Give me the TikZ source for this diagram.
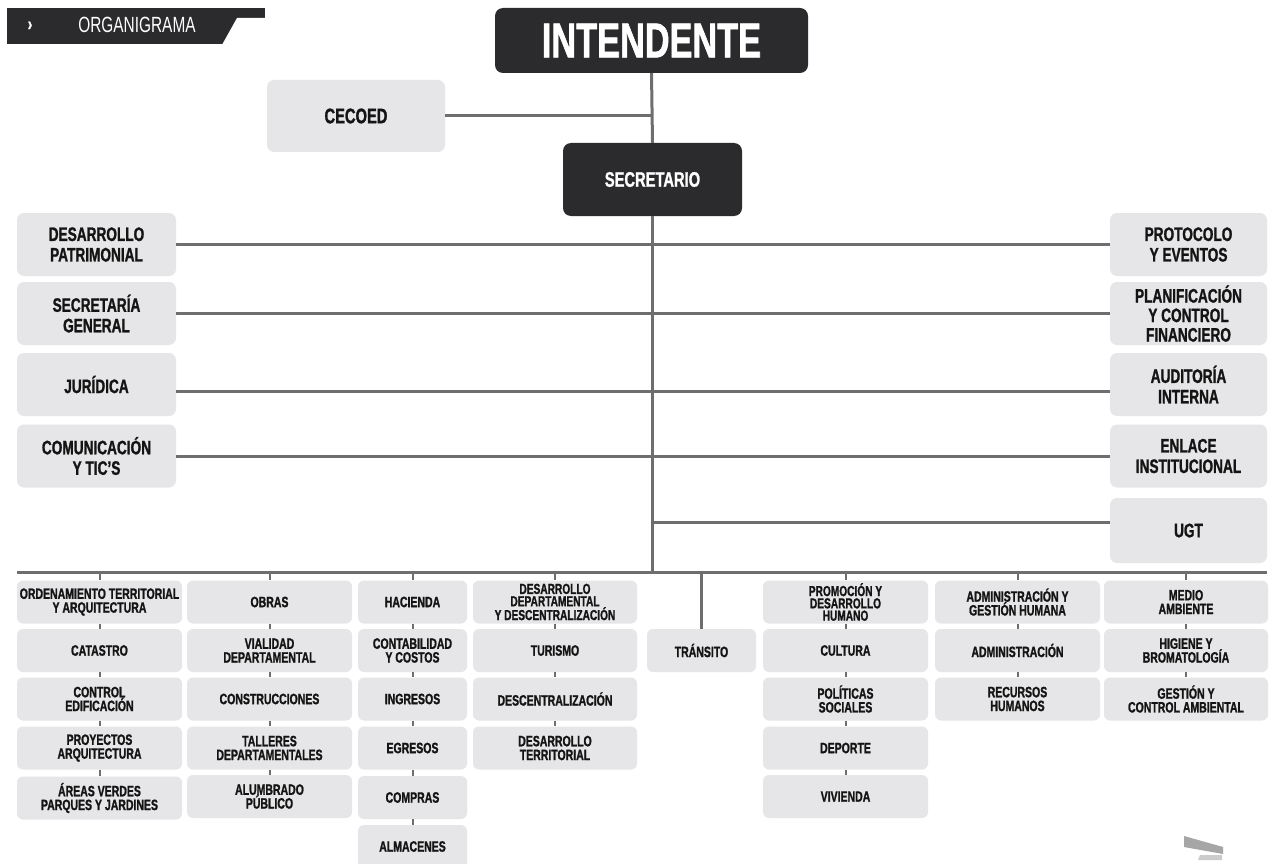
\documentclass[tikz,border=0pt]{standalone}
\usepackage{fontspec}
\setmainfont[FakeStretch=0.7,BoldFeatures={FakeBold=1.2}]{Liberation Sans}
\definecolor{darkbox}{HTML}{2B2A2C}
\definecolor{boxgray}{HTML}{E6E6E8}
\definecolor{linegray}{HTML}{6E6E6E}
\definecolor{txt}{HTML}{141414}
\begin{document}
\begin{tikzpicture}[x=1pt,y=-1pt,
  dbox/.style={fill=darkbox,rounded corners=8pt,text=white,inner sep=0pt,align=center},
  gbox/.style={fill=boxgray,rounded corners=7pt,text=txt,inner sep=0pt,align=center},
  sidebox/.style={gbox,minimum height=63pt,font=\bfseries\fontsize{19.5}{20.5}\selectfont},
  lbox/.style={sidebox,minimum width=159pt},
  rbox/.style={sidebox,minimum width=157pt},
  smallbox/.style={gbox,rounded corners=6pt,minimum height=43pt,font=\bfseries\fontsize{15}{13.8}\selectfont},
  widebox/.style={smallbox,minimum width=165pt},
  narrowbox/.style={smallbox,minimum width=109pt},
  tight/.style={font=\bfseries\fontsize{14.5}{12.3}\selectfont},
  conn/.style={draw=linegray,line width=3pt},
  tick/.style={draw=linegray,line width=2pt}]
\useasboundingbox (0,0) rectangle (1275,864);
\clip (0,0) rectangle (1275,864);
\fill[white] (0,0) rectangle (1275,864);

% title bar
\fill[darkbox] (7,8) rectangle (265,44);
\fill[white] (237,18) -- (268,18) -- (268,52) -- (218,52) -- cycle;
\node[text=white,font=\bfseries\fontsize{19}{19}\selectfont] (arrow) at (30,26) {›};
\node[text=white,font=\fontsize{22}{22}\selectfont] (title) at (137,25) {ORGANIGRAMA};

% top
\node[dbox,minimum width=313pt,minimum height=65pt,font=\bfseries\fontsize{49}{49}\selectfont] (int) at (651.5,40.5) {INTENDENTE};
\node[gbox,minimum width=178pt,minimum height=72pt,font=\bfseries\fontsize{21}{21}\selectfont] (cecoed) at (356,116) {CECOED};
\node[dbox,minimum width=179pt,minimum height=73pt,font=\bfseries\fontsize{21}{21}\selectfont] (sec) at (652.5,179.5) {SECRETARIO};

% side boxes
\node[lbox] (dp) at (96.5,244.5) {DESARROLLO\\PATRIMONIAL};
\node[lbox] (sg) at (96.5,313.5) {SECRETARÍA\\GENERAL};
\node[lbox] (jur) at (96.5,384.5) {JURÍDICA};
\node[lbox] (com) at (96.5,456) {COMUNICACIÓN\\Y TIC’S};
\node[rbox] (prot) at (1188.5,244.5) {PROTOCOLO\\Y EVENTOS};
\node[rbox,font=\bfseries\fontsize{19.5}{19.5}\selectfont] (plan) at (1188.5,313.5) {PLANIFICACIÓN\\Y CONTROL\\FINANCIERO};
\node[rbox] (aud) at (1188.5,384.5) {AUDITORÍA\\INTERNA};
\node[rbox] (enl) at (1188.5,456) {ENLACE\\INSTITUCIONAL};
\node[rbox,minimum height=65pt] (ugt) at (1188.5,530.5) {UGT};

% trunk and branches
\draw[conn] (int.south) -- (sec.north);
\draw[conn] (cecoed.east) -- (cecoed.east -| int.south);
\coordinate (busL) at (17,572);
\coordinate (busR) at (1267,572);
\draw[conn] (sec.south) -- (sec.south |- busL);
\draw[conn] (dp.east) -- (prot.west);
\draw[conn] (sg.east) -- (plan.west);
\draw[conn] ([yshift=-6.5pt]jur.east) -- ([yshift=-6.5pt]aud.west);
\draw[conn] (com.east) -- (enl.west);
\draw[conn] ([yshift=8.5pt]ugt.west) -- ([yshift=8.5pt]ugt.west -| sec.south);
\draw[conn] (busL) -- (busR);

% column 1
\node[widebox] (a1) at (99.5,602) {ORDENAMIENTO TERRITORIAL\\Y ARQUITECTURA};
\node[widebox] (a2) at (99.5,650.5) {CATASTRO};
\node[widebox] (a3) at (99.5,699) {CONTROL\\EDIFICACIÓN};
\node[widebox] (a4) at (99.5,748) {PROYECTOS\\ARQUITECTURA};
\node[widebox] (a5) at (99.5,798) {ÁREAS VERDES\\PARQUES Y JARDINES};
% column 2
\node[widebox] (b1) at (269.5,602) {OBRAS};
\node[widebox] (b2) at (269.5,650.5) {VIALIDAD\\DEPARTAMENTAL};
\node[widebox] (b3) at (269.5,699) {CONSTRUCCIONES};
\node[widebox] (b4) at (269.5,748) {TALLERES\\DEPARTAMENTALES};
\node[widebox] (b5) at (269.5,796.5) {ALUMBRADO\\PÚBLICO};
% column 3
\node[narrowbox] (c1) at (412.5,602) {HACIENDA};
\node[narrowbox] (c2) at (412.5,650.5) {CONTABILIDAD\\Y COSTOS};
\node[narrowbox] (c3) at (412.5,699) {INGRESOS};
\node[narrowbox] (c4) at (412.5,748) {EGRESOS};
\node[narrowbox] (c5) at (412.5,797.5) {COMPRAS};
\node[narrowbox] (c6) at (412.5,846.5) {ALMACENES};
% column 4
\node[widebox,minimum width=164pt,tight] (d1) at (555,602) {DESARROLLO\\DEPARTAMENTAL\\Y DESCENTRALIZACIÓN};
\node[widebox,minimum width=164pt] (d2) at (555,650.5) {TURISMO};
\node[widebox,minimum width=164pt] (d3) at (555,699) {DESCENTRALIZACIÓN};
\node[widebox,minimum width=164pt] (d4) at (555,748) {DESARROLLO\\TERRITORIAL};
% transito
\node[narrowbox] (tran) at (701.5,650.5) {TRÁNSITO};
% column 6
\node[widebox,tight] (f1) at (845.5,602) {PROMOCIÓN Y\\DESARROLLO\\HUMANO};
\node[widebox] (f2) at (845.5,650.5) {CULTURA};
\node[widebox] (f3) at (845.5,699) {POLÍTICAS\\SOCIALES};
\node[widebox] (f4) at (845.5,748) {DEPORTE};
\node[widebox] (f5) at (845.5,796.5) {VIVIENDA};
% column 7
\node[widebox] (g1) at (1017.5,602) {ADMINISTRACIÓN Y\\GESTIÓN HUMANA};
\node[widebox] (g2) at (1017.5,650.5) {ADMINISTRACIÓN};
\node[widebox] (g3) at (1017.5,699) {RECURSOS\\HUMANOS};
% column 8
\node[widebox,minimum width=164pt] (h1) at (1186,602) {MEDIO\\AMBIENTE};
\node[widebox,minimum width=164pt] (h2) at (1186,650.5) {HIGIENE Y\\BROMATOLOGÍA};
\node[widebox,minimum width=164pt] (h3) at (1186,699) {GESTIÓN Y\\CONTROL AMBIENTAL};

% ticks from bus
\foreach \n in {a1,b1,c1,d1,f1,g1,h1}
  \draw[tick] (\n.north |- busL) -- (\n.north);
\draw[conn] (tran.north |- busL) -- (tran.north);
% ticks between boxes
\foreach \p/\q in {a1/a2,a2/a3,a3/a4,a4/a5,b1/b2,b2/b3,b3/b4,b4/b5,
  c1/c2,c2/c3,c3/c4,c4/c5,c5/c6,d1/d2,d2/d3,d3/d4,f1/f2,f2/f3,f3/f4,f4/f5,
  g1/g2,g2/g3,h1/h2,h2/h3}
  \draw[tick] (\p.south) -- (\q.north);

% logo mark
\fill[gray!70] (1184,836) -- (1223,847) -- (1223,854) -- (1184,847) -- cycle;
\fill[gray!40] (1200,855) -- (1222,855) -- (1222,860) -- (1198,860) -- cycle;
\end{tikzpicture}
\end{document}
